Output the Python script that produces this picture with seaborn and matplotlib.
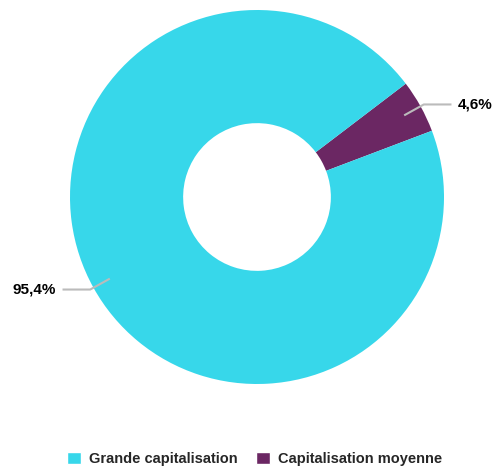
import numpy as np
import matplotlib.pyplot as plt
import seaborn as sns
from matplotlib.patches import Patch

sns.set_theme(style="white")
plt.rcParams["font.family"] = ["Liberation Sans", "DejaVu Sans"]

categories = ["Capitalisation moyenne", "Grande capitalisation"]
values = [4.6, 95.4]
labels = ["4,6%", "95,4%"]
colors = ["#6B2763", "#37D7EA"]

fig = plt.figure(figsize=(4.95, 4.67), dpi=100)
R = 187.0
half = 1.25 * R
ax = fig.add_axes([(257 - half) / 495, (270 - half) / 467, 2 * half / 495, 2 * half / 467])

start = 37.3
ax.pie(values, colors=colors, startangle=start, counterclock=False,
       radius=1, wedgeprops=dict(width=0.605, edgecolor="white", linewidth=0))
ax.set_xlim(-1.25, 1.25)
ax.set_ylim(-1.25, 1.25)
ax.axis("off")

# connector lines and labels
cum = start
for v, lab in zip(values, labels):
    mid = np.deg2rad(cum - v * 3.6 / 2)
    cum -= v * 3.6
    x0, y0 = 0.9 * np.cos(mid), 0.9 * np.sin(mid)
    x1, y1 = 1.02 * np.cos(mid), 1.02 * np.sin(mid)
    side = 1 if np.cos(mid) > 0 else -1
    x2 = side * 1.04
    ax.plot([x0, x1, x2], [y0, y1, y1], color="#BBBBBB", lw=1.5,
            solid_capstyle="butt", clip_on=False)
    ax.text(x2 + side * 0.035, y1, lab, ha="left" if side > 0 else "right",
            va="center", fontsize=11, fontweight="bold", color="black")

handles = [Patch(facecolor=colors[1], label=categories[1]),
           Patch(facecolor=colors[0], label=categories[0])]
fig.legend(handles=handles, loc="lower center", bbox_to_anchor=(254.5 / 495, -0.026),
           ncol=2, frameon=False, handlelength=0.96, handleheight=0.96,
           handletextpad=0.5, columnspacing=1.3, prop={"weight": "bold", "size": 10.5})

fig.savefig("out.png", dpi=100)
